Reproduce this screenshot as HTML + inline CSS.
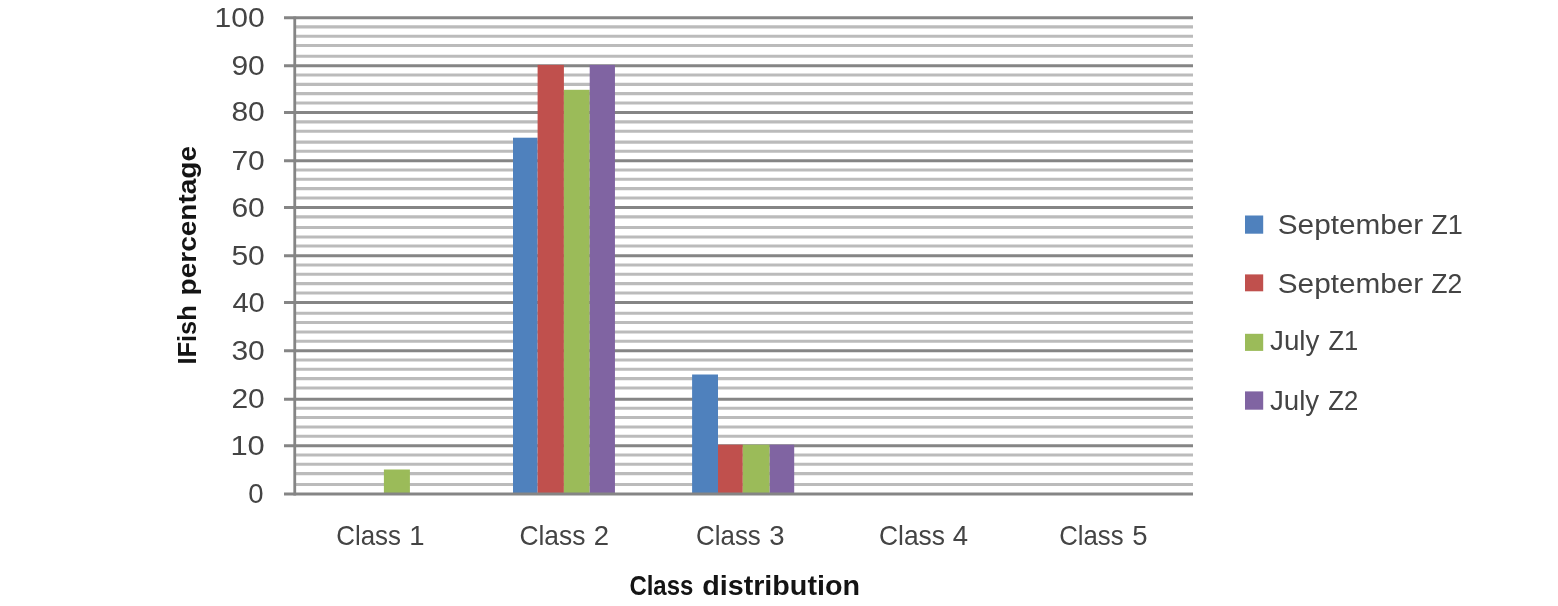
<!DOCTYPE html>
<html><head><meta charset="utf-8"><title>IFish percentage by class distribution</title>
<style>html,body{margin:0;padding:0;background:#fff;overflow:hidden;} svg{display:block;will-change:transform;}</style>
</head><body>
<svg width="1558" height="606" viewBox="0 0 1558 606">

<style>
.t { font-family: "Liberation Sans", sans-serif; fill: #444444; }
.b { font-family: "Liberation Sans", sans-serif; font-weight: bold; fill: #141414; }
</style>
<g>
<rect width="1558" height="606" fill="#ffffff"/>
<line x1="294.75" y1="484.55" x2="1193.00" y2="484.55" stroke="#bbbbbb" stroke-width="3.1"/>
<line x1="294.75" y1="473.66" x2="1193.00" y2="473.66" stroke="#bbbbbb" stroke-width="3.1"/>
<line x1="294.75" y1="464.26" x2="1193.00" y2="464.26" stroke="#bbbbbb" stroke-width="3.1"/>
<line x1="294.75" y1="455.05" x2="1193.00" y2="455.05" stroke="#bbbbbb" stroke-width="3.1"/>
<line x1="294.75" y1="436.24" x2="1193.00" y2="436.24" stroke="#bbbbbb" stroke-width="3.1"/>
<line x1="294.75" y1="426.93" x2="1193.00" y2="426.93" stroke="#bbbbbb" stroke-width="3.1"/>
<line x1="294.75" y1="417.52" x2="1193.00" y2="417.52" stroke="#bbbbbb" stroke-width="3.1"/>
<line x1="294.75" y1="408.32" x2="1193.00" y2="408.32" stroke="#bbbbbb" stroke-width="3.1"/>
<line x1="294.75" y1="388.07" x2="1193.00" y2="388.07" stroke="#bbbbbb" stroke-width="3.1"/>
<line x1="294.75" y1="378.66" x2="1193.00" y2="378.66" stroke="#bbbbbb" stroke-width="3.1"/>
<line x1="294.75" y1="369.26" x2="1193.00" y2="369.26" stroke="#bbbbbb" stroke-width="3.1"/>
<line x1="294.75" y1="360.05" x2="1193.00" y2="360.05" stroke="#bbbbbb" stroke-width="3.1"/>
<line x1="294.75" y1="341.24" x2="1193.00" y2="341.24" stroke="#bbbbbb" stroke-width="3.1"/>
<line x1="294.75" y1="331.93" x2="1193.00" y2="331.93" stroke="#bbbbbb" stroke-width="3.1"/>
<line x1="294.75" y1="322.52" x2="1193.00" y2="322.52" stroke="#bbbbbb" stroke-width="3.1"/>
<line x1="294.75" y1="313.32" x2="1193.00" y2="313.32" stroke="#bbbbbb" stroke-width="3.1"/>
<line x1="294.75" y1="293.07" x2="1193.00" y2="293.07" stroke="#bbbbbb" stroke-width="3.1"/>
<line x1="294.75" y1="283.66" x2="1193.00" y2="283.66" stroke="#bbbbbb" stroke-width="3.1"/>
<line x1="294.75" y1="274.26" x2="1193.00" y2="274.26" stroke="#bbbbbb" stroke-width="3.1"/>
<line x1="294.75" y1="265.05" x2="1193.00" y2="265.05" stroke="#bbbbbb" stroke-width="3.1"/>
<line x1="294.75" y1="246.04" x2="1193.00" y2="246.04" stroke="#bbbbbb" stroke-width="3.1"/>
<line x1="294.75" y1="236.93" x2="1193.00" y2="236.93" stroke="#bbbbbb" stroke-width="3.1"/>
<line x1="294.75" y1="227.52" x2="1193.00" y2="227.52" stroke="#bbbbbb" stroke-width="3.1"/>
<line x1="294.75" y1="216.83" x2="1193.00" y2="216.83" stroke="#bbbbbb" stroke-width="3.1"/>
<line x1="294.75" y1="198.07" x2="1193.00" y2="198.07" stroke="#bbbbbb" stroke-width="3.1"/>
<line x1="294.75" y1="188.66" x2="1193.00" y2="188.66" stroke="#bbbbbb" stroke-width="3.1"/>
<line x1="294.75" y1="179.26" x2="1193.00" y2="179.26" stroke="#bbbbbb" stroke-width="3.1"/>
<line x1="294.75" y1="170.05" x2="1193.00" y2="170.05" stroke="#bbbbbb" stroke-width="3.1"/>
<line x1="294.75" y1="151.27" x2="1193.00" y2="151.27" stroke="#bbbbbb" stroke-width="3.1"/>
<line x1="294.75" y1="142.16" x2="1193.00" y2="142.16" stroke="#bbbbbb" stroke-width="3.1"/>
<line x1="294.75" y1="131.27" x2="1193.00" y2="131.27" stroke="#bbbbbb" stroke-width="3.1"/>
<line x1="294.75" y1="121.86" x2="1193.00" y2="121.86" stroke="#bbbbbb" stroke-width="3.1"/>
<line x1="294.75" y1="103.07" x2="1193.00" y2="103.07" stroke="#bbbbbb" stroke-width="3.1"/>
<line x1="294.75" y1="93.66" x2="1193.00" y2="93.66" stroke="#bbbbbb" stroke-width="3.1"/>
<line x1="294.75" y1="84.36" x2="1193.00" y2="84.36" stroke="#bbbbbb" stroke-width="3.1"/>
<line x1="294.75" y1="75.05" x2="1193.00" y2="75.05" stroke="#bbbbbb" stroke-width="3.1"/>
<line x1="294.75" y1="56.24" x2="1193.00" y2="56.24" stroke="#bbbbbb" stroke-width="3.1"/>
<line x1="294.75" y1="45.45" x2="1193.00" y2="45.45" stroke="#bbbbbb" stroke-width="3.1"/>
<line x1="294.75" y1="36.24" x2="1193.00" y2="36.24" stroke="#bbbbbb" stroke-width="3.1"/>
<line x1="294.75" y1="26.83" x2="1193.00" y2="26.83" stroke="#bbbbbb" stroke-width="3.1"/>
<line x1="284" y1="445.74" x2="1193.00" y2="445.74" stroke="#858585" stroke-width="3.0"/>
<line x1="284" y1="399.20" x2="1193.00" y2="399.20" stroke="#858585" stroke-width="3.0"/>
<line x1="284" y1="350.74" x2="1193.00" y2="350.74" stroke="#858585" stroke-width="3.0"/>
<line x1="284" y1="302.60" x2="1193.00" y2="302.60" stroke="#858585" stroke-width="3.0"/>
<line x1="284" y1="255.70" x2="1193.00" y2="255.70" stroke="#858585" stroke-width="3.0"/>
<line x1="284" y1="207.60" x2="1193.00" y2="207.60" stroke="#858585" stroke-width="3.0"/>
<line x1="284" y1="160.76" x2="1193.00" y2="160.76" stroke="#858585" stroke-width="3.0"/>
<line x1="284" y1="112.47" x2="1193.00" y2="112.47" stroke="#858585" stroke-width="3.0"/>
<line x1="284" y1="65.74" x2="1193.00" y2="65.74" stroke="#858585" stroke-width="3.0"/>
<line x1="284" y1="17.72" x2="1193.00" y2="17.72" stroke="#858585" stroke-width="3.0"/>
<rect x="383.90" y="469.50" width="26.00" height="24.50" fill="#9bbb59"/>
<rect x="513.00" y="137.70" width="24.60" height="356.30" fill="#4f81bd"/>
<rect x="537.60" y="64.90" width="26.30" height="429.10" fill="#c0504d"/>
<rect x="563.90" y="89.80" width="25.80" height="404.20" fill="#9bbb59"/>
<rect x="589.70" y="64.90" width="25.25" height="429.10" fill="#8064a2"/>
<rect x="692.10" y="374.50" width="25.90" height="119.50" fill="#4f81bd"/>
<rect x="718.00" y="444.70" width="24.80" height="49.30" fill="#c0504d"/>
<rect x="742.80" y="444.70" width="26.90" height="49.30" fill="#9bbb59"/>
<rect x="769.70" y="444.70" width="24.50" height="49.30" fill="#8064a2"/>
<line x1="294.75" y1="16.52" x2="294.75" y2="495.46" stroke="#858585" stroke-width="2.8"/>
<line x1="284" y1="493.96" x2="1193.00" y2="493.96" stroke="#858585" stroke-width="3.0"/>
<rect x="1245" y="215.50" width="18.2" height="18.20" fill="#4f81bd"/>
<rect x="1245" y="274.40" width="18.2" height="16.90" fill="#c0504d"/>
<rect x="1245" y="333.80" width="18.2" height="17.10" fill="#9bbb59"/>
<rect x="1245" y="391.40" width="18.2" height="18.30" fill="#8064a2"/>
<text class="t" style="font-size:27.5px" x="248.20" y="502.86">0</text>
<text class="t" style="font-size:27.5px" x="230.40" y="454.64" textLength="34.40" lengthAdjust="spacingAndGlyphs">10</text>
<text class="t" style="font-size:27.5px" x="231.40" y="408.10" textLength="33.40" lengthAdjust="spacingAndGlyphs">20</text>
<text class="t" style="font-size:27.5px" x="231.40" y="359.64" textLength="33.40" lengthAdjust="spacingAndGlyphs">30</text>
<text class="t" style="font-size:27.5px" x="232.40" y="311.50" textLength="32.40" lengthAdjust="spacingAndGlyphs">40</text>
<text class="t" style="font-size:27.5px" x="231.40" y="264.60" textLength="33.40" lengthAdjust="spacingAndGlyphs">50</text>
<text class="t" style="font-size:27.5px" x="231.40" y="216.50" textLength="33.40" lengthAdjust="spacingAndGlyphs">60</text>
<text class="t" style="font-size:27.5px" x="231.40" y="169.66" textLength="33.40" lengthAdjust="spacingAndGlyphs">70</text>
<text class="t" style="font-size:27.5px" x="231.40" y="121.37" textLength="33.40" lengthAdjust="spacingAndGlyphs">80</text>
<text class="t" style="font-size:27.5px" x="231.40" y="74.64" textLength="33.40" lengthAdjust="spacingAndGlyphs">90</text>
<text class="t" style="font-size:27.5px" x="214.60" y="26.62" textLength="50.20" lengthAdjust="spacingAndGlyphs">100</text>
<text class="t" style="font-size:27.5px" x="336.20" y="545.20" textLength="64.80" lengthAdjust="spacingAndGlyphs">Class</text>
<text class="t" style="font-size:27.5px" x="409.30" y="545.20">1</text>
<text class="t" style="font-size:27.5px" x="519.40" y="545.20" textLength="66.00" lengthAdjust="spacingAndGlyphs">Class</text>
<text class="t" style="font-size:27.5px" x="593.70" y="545.20">2</text>
<text class="t" style="font-size:27.5px" x="696.00" y="545.20" textLength="64.80" lengthAdjust="spacingAndGlyphs">Class</text>
<text class="t" style="font-size:27.5px" x="769.25" y="545.20">3</text>
<text class="t" style="font-size:27.5px" x="879.00" y="545.20" textLength="66.00" lengthAdjust="spacingAndGlyphs">Class</text>
<text class="t" style="font-size:27.5px" x="952.80" y="545.20">4</text>
<text class="t" style="font-size:27.5px" x="1059.20" y="545.20" textLength="64.40" lengthAdjust="spacingAndGlyphs">Class</text>
<text class="t" style="font-size:27.5px" x="1132.35" y="545.20">5</text>
<text class="t" style="font-size:27.5px" x="1277.80" y="233.80" textLength="145.40" lengthAdjust="spacingAndGlyphs">September</text>
<text class="t" style="font-size:27.5px" x="1431.20" y="233.80" textLength="31.60" lengthAdjust="spacingAndGlyphs">Z1</text>
<text class="t" style="font-size:27.5px" x="1277.80" y="292.80" textLength="145.40" lengthAdjust="spacingAndGlyphs">September</text>
<text class="t" style="font-size:27.5px" x="1431.20" y="292.80" textLength="31.00" lengthAdjust="spacingAndGlyphs">Z2</text>
<text class="t" style="font-size:27.5px" x="1270.00" y="350.30" textLength="49.40" lengthAdjust="spacingAndGlyphs">July</text>
<text class="t" style="font-size:27.5px" x="1328.40" y="350.30" textLength="29.80" lengthAdjust="spacingAndGlyphs">Z1</text>
<text class="t" style="font-size:27.5px" x="1270.00" y="409.50" textLength="49.20" lengthAdjust="spacingAndGlyphs">July</text>
<text class="t" style="font-size:27.5px" x="1328.20" y="409.50" textLength="30.00" lengthAdjust="spacingAndGlyphs">Z2</text>
<text class="b" style="font-size:26.8px" x="629.40" y="594.50" textLength="64.00" lengthAdjust="spacingAndGlyphs">Class</text>
<text class="b" style="font-size:26.8px" x="702.20" y="594.50" textLength="157.80" lengthAdjust="spacingAndGlyphs">distribution</text>
<text class="b" style="font-size:25.0px" transform="translate(195.80,364.60) rotate(-90)" x="0" y="0" textLength="59.40" lengthAdjust="spacingAndGlyphs">IFish</text>
<text class="b" style="font-size:25.0px" transform="translate(195.80,295.40) rotate(-90)" x="0" y="0" textLength="149.40" lengthAdjust="spacingAndGlyphs">percentage</text>
</g>
</svg>
</body></html>
